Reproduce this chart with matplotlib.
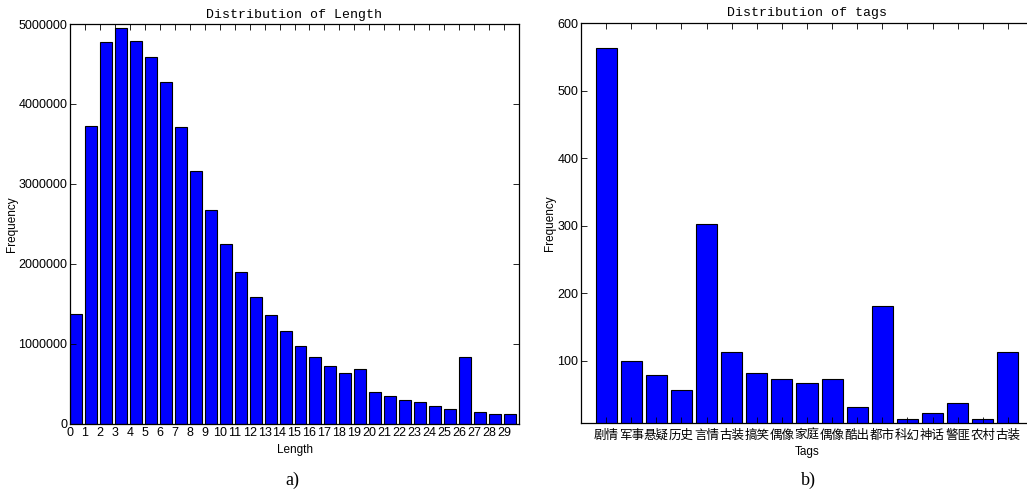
import matplotlib
matplotlib.use('Agg')
import matplotlib.pyplot as plt
import numpy as np

# left panel: frequency of each length
lengths = list(range(30))
length_freq = [1370000, 3720000, 4780000, 4950000, 4790000, 4590000, 4270000,
               3710000, 3160000, 2670000, 2250000, 1900000, 1590000, 1360000,
               1160000, 980000, 840000, 730000, 640000, 690000, 400000, 350000,
               300000, 270000, 230000, 190000, 840000, 150000, 130000, 120000]

# right panel: frequency of each tag
tags = ['剧情', '军事', '悬疑', '历史', '言情', '古装', '搞笑', '偶像', '家庭',
        '偶像', '酷出', '都市', '科幻', '神话', '警匪', '农村', '古装']
tag_freq = [563, 100, 79, 57, 303, 112, 81, 72, 67, 72, 31, 181, 13, 22, 37, 13, 112]

tick_font = ['Liberation Sans', 'DejaVu Sans']
cjk_font = ['Noto Sans CJK SC', 'DejaVu Sans']
title_font = 'Liberation Mono'

W, H = 1027, 495
fig = plt.figure(figsize=(W / 100, H / 100), dpi=100)


def px_axes(left, top, right, bottom):
    return fig.add_axes([left / W, 1 - bottom / H, (right - left) / W, (bottom - top) / H])


def style(ax):
    ax.tick_params(direction='in', top=True, right=True, length=4, width=0.6,
                   pad=2, labelsize=8)
    for s in ax.spines.values():
        s.set_linewidth(0.9)


# a) length distribution
ax1 = px_axes(70, 24, 519, 424)
ax1.bar(lengths, length_freq, width=0.8, align='edge', color='#0000ff',
        edgecolor='black', linewidth=0.8)
ax1.set_xlim(0, 30)
ax1.set_ylim(0, 5000000)
ax1.set_xticks(lengths)
ax1.set_yticks(np.arange(0, 5000001, 1000000))
ax1.ticklabel_format(axis='y', style='plain')
style(ax1)
for lab in ax1.get_xticklabels() + ax1.get_yticklabels():
    lab.set_family(tick_font)
    lab.set_fontsize(9)
ax1.set_title('Distribution of Length', family=title_font, fontsize=9.5, pad=4)
ax1.set_xlabel('Length', family=tick_font, fontsize=8.5, labelpad=4)
ax1.set_ylabel('Frequency', family=tick_font, fontsize=8.5, labelpad=0)

# b) tag distribution
ax2 = px_axes(581, 23, 1033, 423)
pos = np.arange(len(tags))
ax2.bar(pos, tag_freq, width=0.84, color='#0000ff', edgecolor='black', linewidth=0.8)
ax2.set_xlim(-1, 17)
ax2.set_ylim(7.5, 600)
ax2.set_xticks(pos)
ax2.set_xticklabels(tags)
ax2.set_yticks([100, 200, 300, 400, 500, 600])
style(ax2)
ax2.tick_params(axis='x', pad=4)
for lab in ax2.get_xticklabels():
    lab.set_family(cjk_font)
    lab.set_fontsize(9)
for lab in ax2.get_yticklabels():
    lab.set_family(tick_font)
    lab.set_fontsize(9)
ax2.set_title('Distribution of tags', family=title_font, fontsize=9.5, pad=5)
ax2.set_xlabel('Tags', family=tick_font, fontsize=8.5, labelpad=3)
ax2.set_ylabel('Frequency', family=tick_font, fontsize=8.5, labelpad=1)

fig.text(292 / W, 1 - 480 / H, 'a)', family='Liberation Serif', fontsize=13,
         ha='center', va='center')
fig.text(808 / W, 1 - 480 / H, 'b)', family='Liberation Serif', fontsize=13,
         ha='center', va='center')

fig.savefig('out.png', dpi=100)
